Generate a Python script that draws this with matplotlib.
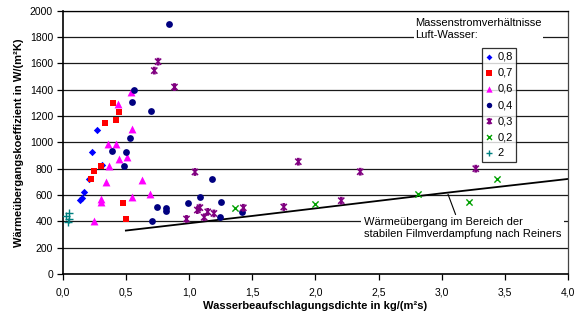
import matplotlib
matplotlib.use("Agg")
import matplotlib.pyplot as plt
from matplotlib.path import Path
import numpy as np

plt.rcParams['font.family'] = ['Liberation Sans', 'DejaVu Sans']

# Data (Massenstromverhältnis Luft-Wasser)
x08 = [0.27, 0.235, 0.315, 0.205, 0.165, 0.155, 0.14]
y08 = [1095, 930, 828, 725, 622, 580, 560]

x07 = [0.395, 0.445, 0.42, 0.335, 0.30, 0.25, 0.225, 0.475, 0.50]
y07 = [1300, 1230, 1168, 1147, 820, 782, 722, 542, 420]

x06 = [0.54, 0.435, 0.545, 0.355, 0.42, 0.445, 0.51, 0.365, 0.34, 0.63, 0.695, 0.545, 0.305, 0.30, 0.245]
y06 = [1380, 1290, 1100, 990, 990, 870, 887, 820, 700, 717, 607, 587, 570, 550, 400]

x04 = [0.84, 0.565, 0.55, 0.70, 0.53, 0.39, 0.505, 0.485, 1.185, 0.995, 1.09, 1.255, 0.75, 0.82, 0.815, 0.71, 1.245, 1.42]
y04 = [1900, 1395, 1310, 1240, 1035, 935, 930, 820, 722, 537, 587, 549, 507, 505, 480, 403, 432, 469]

x03 = [0.755, 0.725, 0.885, 1.047, 0.98, 1.066, 1.086, 1.12, 1.148, 1.197, 1.43, 1.865, 2.355, 1.75, 2.205, 3.27]
y03 = [1613, 1545, 1420, 775, 418, 486, 504, 431, 472, 460, 503, 853, 777, 509, 557, 800]

x02 = [1.36, 2.0, 2.81, 3.44, 3.22]
y02 = [504, 534, 606, 722, 545]

x2 = [0.03, 0.05, 0.05, 0.04]
y2 = [440, 460, 420, 395]

reiners_x = [0.5, 1.5, 3.0, 4.0]
reiners_y = [330, 441, 613, 722]

xticks = [0.0, 0.5, 1.0, 1.5, 2.0, 2.5, 3.0, 3.5, 4.0]
xticklabels = ['0,0', '0,5', '1,0', '1,5', '2,0', '2,5', '3,0', '3,5', '4,0']
yticks = list(range(0, 2001, 200))

# Excel-like star marker: X with vertical bar and short caps
star = Path(
    [(-1, -1), (1, 1), (-1, 1), (1, -1), (0, -1), (0, 1), (-0.45, 1), (0.45, 1), (-0.45, -1), (0.45, -1)],
    [Path.MOVETO, Path.LINETO, Path.MOVETO, Path.LINETO, Path.MOVETO, Path.LINETO,
     Path.MOVETO, Path.LINETO, Path.MOVETO, Path.LINETO])

fig = plt.figure(figsize=(5.85, 3.2), dpi=100)
ax = fig.add_axes([62.7/585, 1-274/320, (568-62.7)/585, (274-10.7)/320])

for yv in yticks[1:]:
    ax.axhline(yv, color='#1a1a1a', lw=0.9, zorder=1)

ax.plot(reiners_x, reiners_y, color='black', lw=1.3, zorder=2)

ax.scatter(x08, y08, marker='D', s=14, color='#0000FF', zorder=3, label='0,8', linewidths=0)
ax.scatter(x07, y07, marker='s', s=24, color='#FF0000', zorder=3, label='0,7', linewidths=0)
ax.scatter(x06, y06, marker='^', s=32, color='#FF00FF', zorder=3, label='0,6', linewidths=0)
ax.scatter(x04, y04, marker='o', s=24, color='#000080', zorder=3, label='0,4', linewidths=0)
ax.scatter(x03, y03, marker=star, s=20, facecolor='none', edgecolor='#800080', linewidths=1.1, zorder=3, label='0,3')
ax.scatter(x02, y02, marker='x', s=20, color='#00A000', linewidths=1.0, zorder=3, label='0,2')
ax.scatter(x2, y2, marker='+', s=36, color='#008080', linewidths=1.0, zorder=3, label='2')

ax.set_xlim(0, 4.0)
ax.set_ylim(0, 2000)
ax.set_xticks(xticks)
ax.set_xticklabels(xticklabels)
ax.set_yticks(yticks)
ax.tick_params(axis='both', labelsize=7.5, direction='out', length=4, width=0.9, colors='black', pad=3)
ax.tick_params(axis='x', pad=6)

for sp in ['left', 'bottom']:
    ax.spines[sp].set_linewidth(1.2)
ax.spines['top'].set_linewidth(0.9)
ax.spines['right'].set_linewidth(0.9)
ax.spines['right'].set_color('#444444')

ax.set_xlabel('Wasserbeaufschlagungsdichte in kg/(m²s)', fontsize=8, fontweight='bold', labelpad=2)
ax.set_ylabel('Wärmeübergangskoeffizient in W/(m²K)', fontsize=8, fontweight='bold', labelpad=4)

leg = ax.legend(loc='upper left', bbox_to_anchor=(0.829, 0.859), borderaxespad=0, fontsize=8,
                frameon=True, fancybox=False, edgecolor='black', handlelength=0.7,
                handletextpad=0.35, labelspacing=0.55, borderpad=0.35, scatterpoints=1,
                markerscale=0.8)
leg.get_frame().set_linewidth(0.9)

ax.text(0.697, 0.930, 'Massenstromverhältnisse\nLuft-Wasser:', transform=ax.transAxes, fontsize=8,
        ha='left', va='center', linespacing=1.3,
        bbox=dict(facecolor='white', edgecolor='none', pad=1), zorder=4)

ax.annotate('Wärmeübergang im Bereich der\nstabilen Filmverdampfung nach Reiners',
            xy=(3.05, 606), xytext=(2.384, 347), fontsize=8, ha='left', va='center',
            linespacing=1.25,
            bbox=dict(facecolor='white', edgecolor='none', pad=2),
            arrowprops=dict(arrowstyle='-', color='black', lw=0.8, shrinkA=0, shrinkB=0,
                            relpos=(0.47, 1.0)),
            zorder=4)

fig.savefig('out.png', dpi=100)
